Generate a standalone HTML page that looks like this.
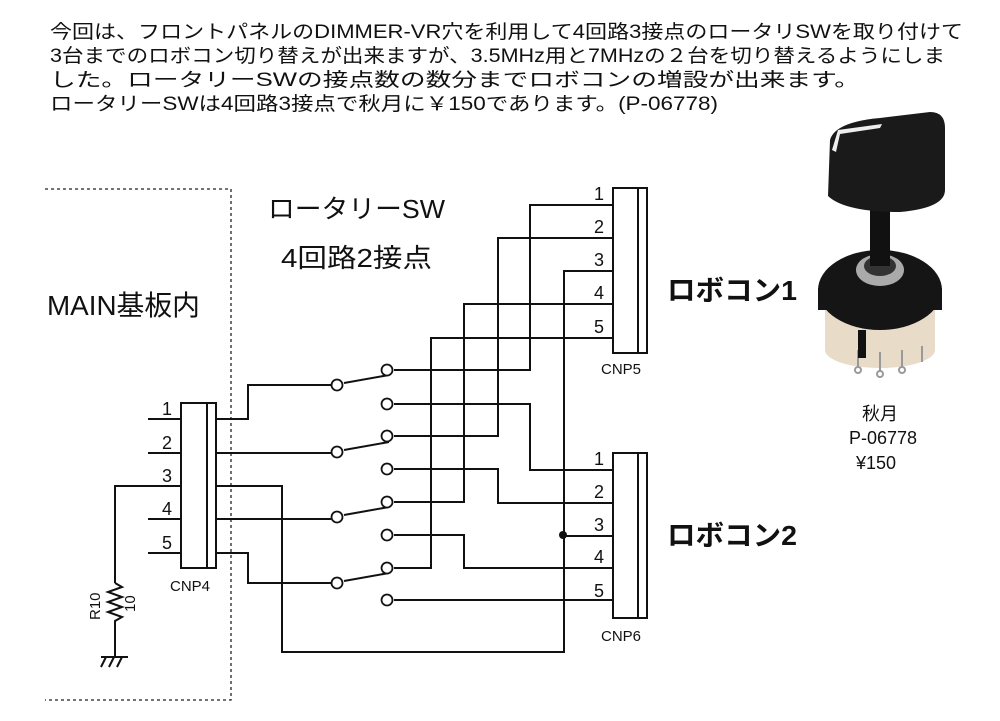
<!DOCTYPE html>
<html><head><meta charset="utf-8"><style>
html,body{margin:0;padding:0;background:#fff;width:1000px;height:721px;overflow:hidden}
svg{display:block}
text{font-family:"Liberation Sans","Noto Sans CJK JP",sans-serif;fill:#111}
</style></head><body>
<svg width="1000" height="721" viewBox="0 0 1000 721">
<g font-size="19">
<text x="50" y="38" textLength="913" lengthAdjust="spacingAndGlyphs">今回は、フロントパネルのDIMMER-VR穴を利用して4回路3接点のロータリSWを取り付けて</text>
<text x="50" y="62" textLength="895" lengthAdjust="spacingAndGlyphs">3台までのロボコン切り替えが出来ますが、3.5MHz用と7MHzの２台を切り替えるようにしま</text>
<text x="50" y="86" textLength="810" lengthAdjust="spacingAndGlyphs">した。ロータリーSWの接点数の数分までロボコンの増設が出来ます。</text>
<text x="50" y="110" textLength="668" lengthAdjust="spacingAndGlyphs">ロータリーSWは4回路3接点で秋月に￥150であります。(P-06778)</text>
</g>
<!-- dashed border -->
<path d="M45 189 H231 V700 H45" fill="none" stroke="#222" stroke-width="1.3" stroke-dasharray="3,3"/>
<text x="268" y="218" font-size="26" textLength="177" lengthAdjust="spacingAndGlyphs">ロータリーSW</text>
<text x="281" y="267" font-size="26" textLength="151" lengthAdjust="spacingAndGlyphs">4回路2接点</text>
<text x="47" y="315" font-size="28" textLength="153" lengthAdjust="spacingAndGlyphs">MAIN基板内</text>
<text x="667" y="300" font-size="28" font-weight="bold" textLength="130" lengthAdjust="spacingAndGlyphs">ロボコン1</text>
<text x="667" y="545" font-size="28" font-weight="bold" textLength="130" lengthAdjust="spacingAndGlyphs">ロボコン2</text>
<g fill="none" stroke="#111" stroke-width="2">
<!-- connectors -->
<rect x="181" y="403" width="35" height="165"/><line x1="207" y1="403" x2="207" y2="568"/>
<rect x="613" y="188" width="34" height="165"/><line x1="638" y1="188" x2="638" y2="353"/>
<rect x="613" y="453" width="34" height="165"/><line x1="638" y1="453" x2="638" y2="618"/>
<!-- CNP4 left -->
<path d="M148 419H181M148 453H181M148 519H181M148 553H181"/>
<path d="M181 486H115V583"/>
<path d="M115 583l7 4l-14 5l14 5l-14 5l14 5l-14 5l14 5l-7 4V657"/>
<path d="M101 657H128M106 657l-5 10M114 657l-5 10M122 657l-5 10"/>
<!-- CNP4 right -->
<path d="M216 419H248V385H331"/>
<path d="M216 453H331"/>
<path d="M216 486H282V652H564V271H613"/>
<path d="M216 519H331"/>
<path d="M216 553H248V583H331"/>
<!-- switch right contacts -->
<path d="M394 370H530V205H613"/>
<path d="M394 404H530V470H613"/>
<path d="M394 436H498V238H613"/>
<path d="M394 469H498V503H613"/>
<path d="M394 502H464V304H613"/>
<path d="M394 535H464V568H613"/>
<path d="M394 568H431V338H613"/>
<path d="M394 600H613"/>
<path d="M564 536H613"/>
<!-- levers -->
<path d="M344 383L389 375M344 450L389 442M344 515L389 507M344 581L389 573"/>
</g>
<g fill="#fff" stroke="#111" stroke-width="1.8">
<circle cx="337" cy="385" r="5.5"/><circle cx="337" cy="452" r="5.5"/><circle cx="337" cy="517" r="5.5"/><circle cx="337" cy="583" r="5.5"/>
<circle cx="387" cy="370" r="5.5"/><circle cx="387" cy="404" r="5.5"/><circle cx="387" cy="436" r="5.5"/><circle cx="387" cy="469" r="5.5"/>
<circle cx="387" cy="502" r="5.5"/><circle cx="387" cy="535" r="5.5"/><circle cx="387" cy="568" r="5.5"/><circle cx="387" cy="600" r="5.5"/>
</g>
<circle cx="563" cy="535" r="4" fill="#111"/>
<g font-size="18">
<text x="162" y="415">1</text><text x="162" y="449">2</text><text x="162" y="482">3</text><text x="162" y="515">4</text><text x="162" y="549">5</text>
<text x="594" y="200">1</text><text x="594" y="233">2</text><text x="594" y="266">3</text><text x="594" y="299">4</text><text x="594" y="333">5</text>
<text x="594" y="465">1</text><text x="594" y="498">2</text><text x="594" y="531">3</text><text x="594" y="563">4</text><text x="594" y="597">5</text>
</g>
<g font-size="15">
<text x="170" y="591">CNP4</text>
<text x="601" y="374">CNP5</text>
<text x="601" y="641">CNP6</text>
<text transform="translate(100,620) rotate(-90)">R10</text>
<text transform="translate(135,612) rotate(-90)">10</text>
</g>
<!-- photo of rotary switch -->
<g>
<ellipse cx="880" cy="350" rx="55" ry="18" fill="#e8dcc8"/>
<rect x="825" y="300" width="110" height="50" fill="#e8dcc8"/>
<g stroke="#999" stroke-width="2" fill="none">
<path d="M858 350v18M880 352v20M902 350v18M922 346v16"/>
<circle cx="858" cy="370" r="3"/><circle cx="880" cy="374" r="3"/><circle cx="902" cy="370" r="3"/>
</g>
<rect x="858" y="330" width="8" height="28" fill="#111"/>
<ellipse cx="880" cy="290" rx="62" ry="40" fill="#151515"/>
<rect x="818" y="288" width="124" height="22" fill="#151515"/>
<ellipse cx="880" cy="270" rx="24" ry="16" fill="#aaa"/>
<ellipse cx="880" cy="266" rx="16" ry="10" fill="#333"/>
<rect x="870" y="200" width="20" height="66" fill="#111"/>
<path d="M830 140 Q835 122 880 118 L930 112 Q945 112 945 128 L945 190 Q945 208 900 212 Q845 212 828 196 Z" fill="#1a1a1a"/>
<path d="M832 150 L838 130 L882 124 L880 128 L840 134 L836 152Z" fill="#eee"/>
</g>
<g font-size="18" text-anchor="middle">
<text x="880" y="420">秋月</text>
<text x="883" y="444">P-06778</text>
<text x="876" y="469">¥150</text>
</g>
</svg>
</body></html>
